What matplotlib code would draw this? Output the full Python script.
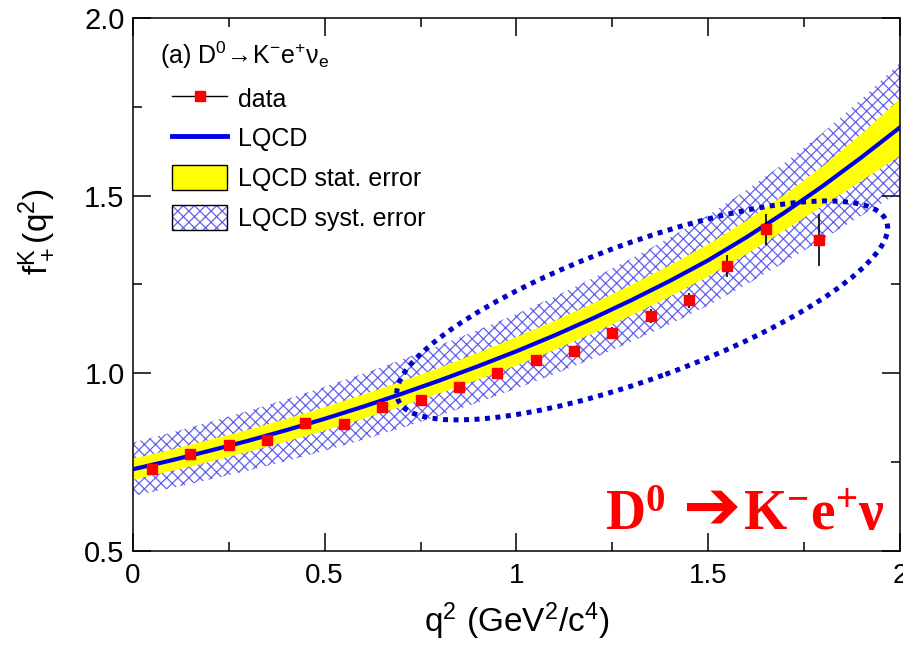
import numpy as np
import matplotlib
matplotlib.use("Agg")
import matplotlib.pyplot as plt
from matplotlib.patches import Ellipse, Patch
from matplotlib.lines import Line2D
from matplotlib.ticker import MultipleLocator, FormatStrFormatter, FuncFormatter
from matplotlib import transforms

plt.rcParams['font.family'] = ['Liberation Sans', 'DejaVu Sans']
plt.rcParams['mathtext.fontset'] = 'custom'
plt.rcParams['mathtext.rm'] = 'Liberation Serif:bold'
plt.rcParams['mathtext.bf'] = 'Liberation Serif:bold'
plt.rcParams['mathtext.sf'] = 'Liberation Sans'
plt.rcParams['mathtext.it'] = 'Liberation Sans:italic'
plt.rcParams['hatch.linewidth'] = 0.9

# measured f+(q2) for D0 -> K- e+ nu
q2_data = [0.05, 0.15, 0.25, 0.35, 0.45, 0.55, 0.65, 0.75, 0.85, 0.95,
           1.05, 1.15, 1.25, 1.35, 1.45, 1.55, 1.65, 1.79]
f_data = [0.732, 0.772, 0.798, 0.812, 0.860, 0.856, 0.904, 0.924, 0.962, 1.001,
          1.037, 1.063, 1.113, 1.161, 1.205, 1.301, 1.405, 1.376]
f_err = [0.006, 0.006, 0.006, 0.006, 0.007, 0.007, 0.008, 0.008, 0.009, 0.010,
         0.011, 0.012, 0.016, 0.019, 0.022, 0.031, 0.044, 0.073]

# lattice QCD prediction with stat / syst half-widths
q2_lqcd = [0.0, 0.1, 0.2, 0.3, 0.4, 0.5, 0.6, 0.7, 0.8, 0.9, 1.0,
           1.1, 1.2, 1.3, 1.4, 1.5, 1.6, 1.7, 1.8, 1.9, 2.0]
f_lqcd = [0.730, 0.755, 0.782, 0.810, 0.840, 0.872, 0.906, 0.942, 0.980, 1.020, 1.062,
          1.107, 1.155, 1.206, 1.260, 1.318, 1.383, 1.453, 1.528, 1.608, 1.692]
stat_err = [0.030, 0.030, 0.031, 0.031, 0.032, 0.033, 0.034, 0.035, 0.036, 0.038, 0.040,
            0.041, 0.042, 0.043, 0.044, 0.045, 0.047, 0.050, 0.056, 0.066, 0.080]
syst_err = [0.075, 0.078, 0.081, 0.084, 0.087, 0.090, 0.093, 0.096, 0.099, 0.102, 0.105,
            0.109, 0.113, 0.117, 0.122, 0.127, 0.133, 0.140, 0.150, 0.164, 0.182]

# dotted ring around the high-q2 points: centre (q2, f), size in inches, tilt in degrees
ring_center = (1.328, 1.177)
ring_size = (5.2, 1.36)
ring_angle = 20

hatch_blue = (0.38, 0.38, 0.93)
line_blue = (0.0, 0.0, 0.92)

q = np.array(q2_lqcd)
f = np.array(f_lqcd)
st = np.array(stat_err)
sy = np.array(syst_err)

fig = plt.figure(figsize=(9.04, 6.54), dpi=100)
ax = fig.add_axes([0.147, 0.1575, 0.8485, 0.815])

ax.fill_between(q, f - sy, f + sy, facecolor='none', edgecolor=hatch_blue,
                hatch='xxx', linewidth=0, zorder=1)
ax.fill_between(q, f - st, f + st, facecolor='yellow', edgecolor='none', zorder=2)
ax.plot(q, f, color=line_blue, lw=3, zorder=3)
ax.errorbar(q2_data, f_data, yerr=f_err, fmt='s', color='red', ms=7.5,
            ecolor='black', elinewidth=1.2, capsize=0, zorder=5)

ring_trans = fig.dpi_scale_trans + transforms.ScaledTranslation(
    ring_center[0], ring_center[1], ax.transData)
ring = Ellipse((0, 0), ring_size[0], ring_size[1], angle=ring_angle,
               transform=ring_trans, fill=False, edgecolor=(0, 0, 0.78),
               lw=3.6, linestyle=(0, (1, 1.1)), zorder=6)
ax.add_patch(ring)

ax.set_xlim(0, 2)
ax.set_ylim(0.5, 2.0)
ax.xaxis.set_major_locator(MultipleLocator(0.5))
ax.xaxis.set_minor_locator(MultipleLocator(0.25))
ax.yaxis.set_major_locator(MultipleLocator(0.5))
ax.yaxis.set_minor_locator(MultipleLocator(0.25))
ax.xaxis.set_major_formatter(FuncFormatter(lambda v, p: '%g' % v))
ax.yaxis.set_major_formatter(FormatStrFormatter('%.1f'))
ax.tick_params(which='both', direction='in', top=True, right=True, width=1.1)
ax.tick_params(which='major', length=13, labelsize=21)
ax.tick_params(which='minor', length=6.5)
ax.tick_params(axis='x', which='major', pad=9, labelsize=20)
ax.tick_params(axis='y', which='major', pad=6)
for s in ax.spines.values():
    s.set_linewidth(1.1)

ax.set_xlabel(r'$\mathsf{q^2\ (GeV^2/c^4)}$', fontsize=24, labelpad=8)
ax.set_ylabel(r'$\mathsf{f^K_+(q^2)}$', fontsize=24)
ax.yaxis.set_label_coords(-0.1, 0.6)

# legend header and entries
ax.text(0.035, 0.93, r'(a) $\mathsf{D^0\!\rightarrow\!K^{-}e^{+}\nu_e}$',
        transform=ax.transAxes, ha='left', va='center', fontsize=18)

handles = [
    Line2D([], [], color='black', lw=1, marker='s', ms=7.5, mfc='red', mec='red'),
    Line2D([], [], color=line_blue, lw=3.5),
    Patch(facecolor='yellow', edgecolor='black', lw=1),
    (Patch(facecolor='white', edgecolor=hatch_blue, hatch='xxx', lw=0),
     Patch(facecolor='none', edgecolor='black', lw=1)),
]
labels = ['data', 'LQCD', 'LQCD stat. error', 'LQCD syst. error']
leg = ax.legend(handles, labels, loc='upper left', bbox_to_anchor=(0.051, 0.873),
                frameon=False, fontsize=18, borderpad=0, borderaxespad=0,
                handlelength=2.2, handleheight=1.16, handletextpad=0.45,
                labelspacing=0.55)

# decay label in the lower right corner
ax.text(0.615, 0.04, r'$\mathrm{D^0}$', transform=ax.transAxes,
        ha='left', va='baseline', color='red', fontsize=40, zorder=7)
ax.text(0.754, 0.042, '\u2794', transform=ax.transAxes, family='DejaVu Sans',
        ha='center', va='baseline', color='red', fontsize=50, zorder=7)
ax.text(0.98, 0.04, r'$\mathrm{K^{-}e^{+}\nu}$', transform=ax.transAxes,
        ha='right', va='baseline', color='red', fontsize=40, zorder=7)

fig.savefig('out.png', dpi=100)
